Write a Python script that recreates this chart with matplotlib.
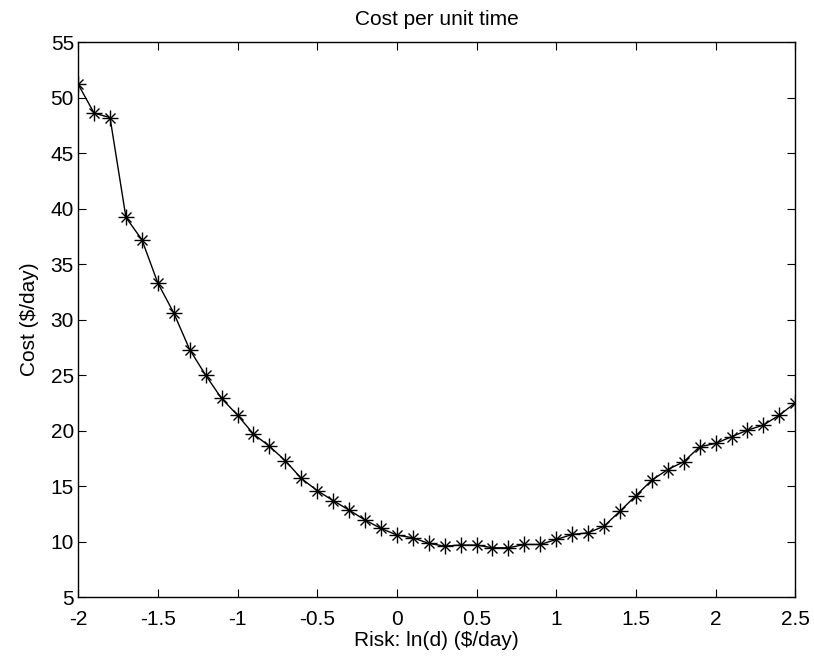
import numpy as np
import matplotlib.pyplot as plt

plt.rcParams['font.family'] = ['Liberation Sans', 'DejaVu Sans']

# ln(d) values, step 0.1
risk = [-2.0, -1.9, -1.8, -1.7, -1.6, -1.5, -1.4, -1.3, -1.2, -1.1,
        -1.0, -0.9, -0.8, -0.7, -0.6, -0.5, -0.4, -0.3, -0.2, -0.1,
        0.0, 0.1, 0.2, 0.3, 0.4, 0.5, 0.6, 0.7, 0.8, 0.9,
        1.0, 1.1, 1.2, 1.3, 1.4, 1.5, 1.6, 1.7, 1.8, 1.9,
        2.0, 2.1, 2.2, 2.3, 2.4, 2.5]
cost = [51.2, 48.6, 48.2, 39.2, 37.2, 33.3, 30.6, 27.3, 25.0, 22.9,
        21.4, 19.7, 18.6, 17.3, 15.7, 14.6, 13.7, 12.85, 11.95, 11.2,
        10.6, 10.35, 9.85, 9.6, 9.7, 9.7, 9.45, 9.45, 9.75, 9.75,
        10.2, 10.65, 10.8, 11.4, 12.75, 14.15, 15.55, 16.5, 17.2, 18.55,
        18.85, 19.45, 20.05, 20.5, 21.4, 22.5]

fig = plt.figure(figsize=(8.14, 6.57), dpi=100)
ax = fig.add_axes([0.096, 0.091, 0.881, 0.845])

# matlab-style asterisk: line plus '+' and 'x' markers on top
ax.plot(risk, cost, color='black', linewidth=1.0, marker='+',
        markersize=11, markeredgewidth=1.0)
ax.plot(risk, cost, color='black', linestyle='none', marker='x',
        markersize=7.5, markeredgewidth=1.0)

ax.set_xlim(-2, 2.5)
ax.set_ylim(5, 55)
ax.set_xticks(np.arange(-2, 2.51, 0.5))
ax.set_xticklabels(['-2', '-1.5', '-1', '-0.5', '0', '0.5', '1', '1.5', '2', '2.5'])
ax.set_yticks(range(5, 56, 5))
ax.tick_params(direction='in', top=True, right=True, labelsize=15, length=6)
ax.tick_params(axis='x', pad=9)
ax.tick_params(axis='y', pad=3)
for s in ax.spines.values():
    s.set_linewidth(1.0)

ax.set_xlabel("Risk: ln(d) ($/day)", fontsize=15, labelpad=2)
ax.set_ylabel("Cost ($/day)", fontsize=15, labelpad=8)
ax.set_title("Cost per unit time", fontsize=15, pad=12)

fig.savefig('out.png', dpi=100)
